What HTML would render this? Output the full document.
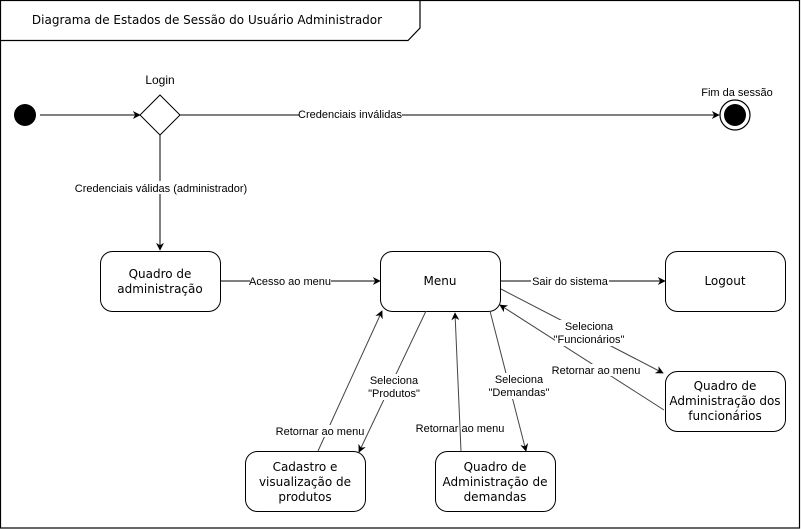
<!DOCTYPE html>
<html><head><meta charset="utf-8"><style>
html,body{margin:0;padding:0;background:#fff}
svg{display:block}
.e{font-family:"Liberation Sans",Arial,sans-serif;font-size:11px;fill:#000}
.n{font-family:"DejaVu Sans",sans-serif;font-size:12px;fill:#000}
.bg{fill:#fff}
</style></head><body>
<svg width="801" height="530" viewBox="0 0 801 530" xmlns="http://www.w3.org/2000/svg">
<defs>
<marker id="a" viewBox="0 0 10 10" refX="9" refY="5" markerWidth="8" markerHeight="8" orient="auto" markerUnits="userSpaceOnUse"><path d="M0,0 L10,5 L0,10 L3,5 z" fill="#000"/></marker>
</defs>
<rect x="0.5" y="0.5" width="799" height="527.5" fill="#fff" stroke="#000" stroke-width="1.2"/>
<path d="M0.5,40.5 L408,40.5 L420,28 L420,0.5" fill="none" stroke="#000" stroke-width="1.2"/>
<text x="207" y="24" text-anchor="middle" class="n" style="font-size:12px">Diagrama de Estados de Sessão do Usuário Administrador</text>

<circle cx="25" cy="115" r="11" fill="#000"/>
<line x1="40" y1="115" x2="140" y2="115" stroke="#000" marker-end="url(#a)"/>
<path d="M160,95 L180,115 L160,135 L140,115 z" fill="#fff" stroke="#000"/>
<text x="160" y="84" text-anchor="middle" class="e" style="font-size:12px">Login</text>

<line x1="180" y1="115" x2="719" y2="115" stroke="#000" marker-end="url(#a)"/>
<rect x="299" y="107" width="103" height="13" class="bg"/>
<text x="350" y="118" text-anchor="middle" class="e">Credenciais inválidas</text>
<circle cx="735" cy="115" r="15" fill="#fff" stroke="#000" stroke-width="1.2"/>
<circle cx="735" cy="115" r="11" fill="#000"/>
<text x="737" y="96" text-anchor="middle" class="e">Fim da sessão</text>

<line x1="160" y1="135" x2="160" y2="250" stroke="#000" marker-end="url(#a)"/>
<rect x="72" y="181" width="178" height="13" class="bg"/>
<text x="161" y="192" text-anchor="middle" class="e">Credenciais válidas (administrador)</text>

<rect x="100.5" y="251.5" width="120" height="60" rx="12" fill="#fff" stroke="#000"/>
<text x="160" y="278" text-anchor="middle" class="n">Quadro de</text>
<text x="160" y="293" text-anchor="middle" class="n">administração</text>

<rect x="380.5" y="251.5" width="120" height="60" rx="12" fill="#fff" stroke="#000"/>
<text x="440" y="285" text-anchor="middle" class="n">Menu</text>

<rect x="665.5" y="251.5" width="120" height="60" rx="12" fill="#fff" stroke="#000"/>
<text x="725" y="285" text-anchor="middle" class="n">Logout</text>

<rect x="665.5" y="371.5" width="120" height="60" rx="12" fill="#fff" stroke="#000"/>
<text x="725" y="390" text-anchor="middle" class="n">Quadro de</text>
<text x="725" y="405" text-anchor="middle" class="n">Administração dos</text>
<text x="725" y="420" text-anchor="middle" class="n">funcionários</text>

<rect x="245.5" y="451.5" width="120" height="60" rx="12" fill="#fff" stroke="#000"/>
<text x="305" y="471" text-anchor="middle" class="n">Cadastro e</text>
<text x="305" y="486" text-anchor="middle" class="n">visualização de</text>
<text x="305" y="501" text-anchor="middle" class="n">produtos</text>

<rect x="435.5" y="451.5" width="120" height="60" rx="12" fill="#fff" stroke="#000"/>
<text x="495" y="471" text-anchor="middle" class="n">Quadro de</text>
<text x="495" y="486" text-anchor="middle" class="n">Administração de</text>
<text x="495" y="501" text-anchor="middle" class="n">demandas</text>

<line x1="221" y1="281" x2="380" y2="281" stroke="#000" marker-end="url(#a)"/>
<rect x="250" y="275" width="81" height="12" class="bg"/>
<text x="290" y="285" text-anchor="middle" class="e">Acesso ao menu</text>

<line x1="501" y1="281" x2="665" y2="281" stroke="#000" marker-end="url(#a)"/>
<rect x="531" y="275" width="78" height="12" class="bg"/>
<text x="570" y="285" text-anchor="middle" class="e">Sair do sistema</text>

<g stroke="#444" stroke-width="1">
<line x1="501" y1="289" x2="663" y2="373" marker-end="url(#a)"/>
<line x1="664" y1="410" x2="500" y2="305" marker-end="url(#a)"/>
<line x1="426" y1="311" x2="359" y2="452" marker-end="url(#a)"/>
<line x1="318" y1="451" x2="382" y2="311" marker-end="url(#a)"/>
<line x1="490" y1="311" x2="526" y2="451" marker-end="url(#a)"/>
<line x1="461" y1="451" x2="455" y2="313" marker-end="url(#a)"/>
</g>

<rect x="555" y="320" width="70" height="26" class="bg"/>
<text x="589" y="330" text-anchor="middle" class="e">Seleciona</text>
<text x="589" y="343" text-anchor="middle" class="e">"Funcionários"</text>
<rect x="550" y="364" width="92" height="12" class="bg"/>
<text x="596" y="374" text-anchor="middle" class="e">Retornar ao menu</text>

<rect x="368" y="374" width="54" height="26" class="bg"/>
<text x="394" y="384" text-anchor="middle" class="e">Seleciona</text>
<text x="394" y="397" text-anchor="middle" class="e">"Produtos"</text>
<rect x="275" y="425" width="90" height="12" class="bg"/>
<text x="320" y="435" text-anchor="middle" class="e">Retornar ao menu</text>

<rect x="490" y="373" width="60" height="26" class="bg"/>
<text x="519" y="383" text-anchor="middle" class="e">Seleciona</text>
<text x="519" y="396" text-anchor="middle" class="e">"Demandas"</text>
<text x="460" y="432" text-anchor="middle" class="e">Retornar ao menu</text>
</svg>
</body></html>
